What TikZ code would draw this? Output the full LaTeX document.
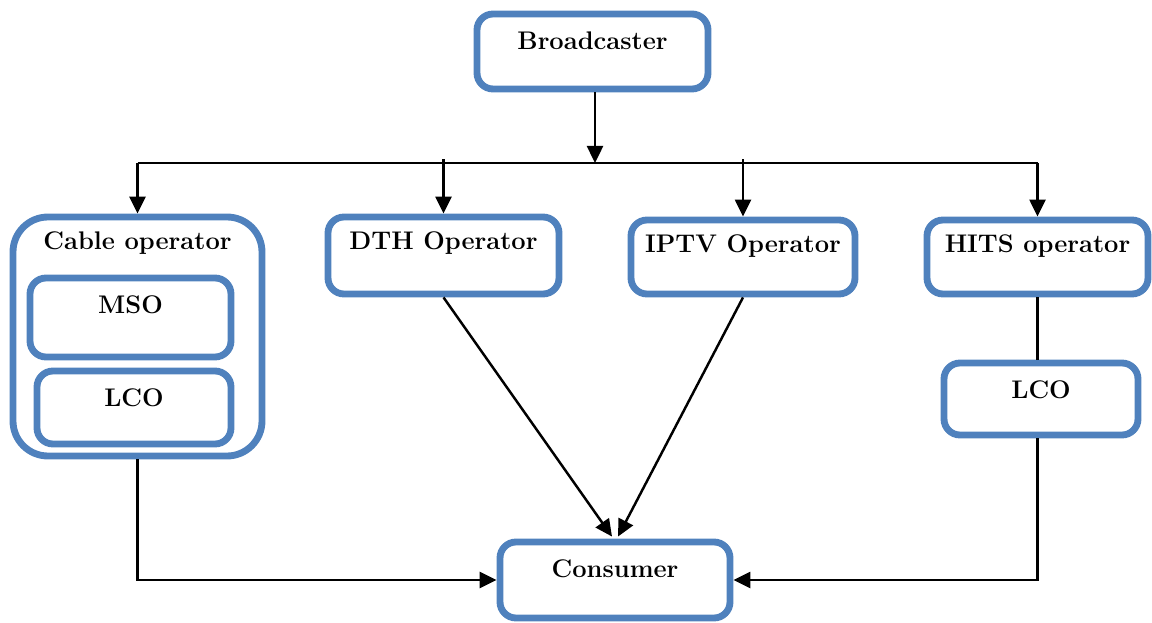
\documentclass[tikz,border=0pt]{standalone}
\usepackage{xcolor}
\usetikzlibrary{arrows.meta,calc}
\definecolor{boxblue}{RGB}{79,129,189}
\tikzset{
	opbox/.style={
			draw=boxblue, line width=3.9pt, rounded corners=0.32cm,
			minimum width=#1, inner sep=0pt
		},
	boxlabel/.style={
			label={[anchor=center, yshift=-0.6cm, font=\fontsize{14.5}{17}\selectfont\bfseries]north:#1}
		},
	arr/.style={-{Triangle[length=0.34cm,width=0.32cm]}, line width=1.4pt, black}
}

\begin{document}
\begin{tikzpicture}
			\useasboundingbox (0, 0) rectangle (23.04, 12.44);

			\node[opbox=4.62cm, minimum height=1.5cm, boxlabel=Broadcaster]	(broad) at (11.85, 11.41) {};
			\node[opbox=4.98cm, minimum height=4.78cm, rounded corners=0.7cm, boxlabel=Cable operator]	(cable) at (2.75, 5.71) {};
			\node[opbox=4.02cm, minimum height=1.58cm, boxlabel=MSO]	(mso) at (2.61, 6.09) {};
			\node[opbox=3.88cm, minimum height=1.46cm, boxlabel=LCO]	(lcoL) at (2.68, 4.29) {};
			\node[opbox=4.62cm, minimum height=1.54cm, boxlabel=DTH Operator]	(dth) at (8.87, 7.33) {};
			\node[opbox=4.48cm, minimum height=1.48cm, boxlabel=IPTV Operator]	(iptv) at (14.86, 7.30) {};
			\node[opbox=4.42cm, minimum height=1.48cm, boxlabel=HITS operator]	(hits) at (20.75, 7.30) {};
			\node[opbox=3.88cm, minimum height=1.44cm, boxlabel=LCO]	(lcoR) at (20.82, 4.46) {};
			\node[opbox=4.6cm, minimum height=1.52cm, boxlabel=Consumer]	(cons) at (12.3, 0.84) {};

			\coordinate (bus) at (11.9, 9.18);

			\draw[arr]	(broad.south -| bus) to (bus);
			\draw[line width=1.4pt]	(cable.north |- bus) to (hits.north |- bus);
			\foreach \n in {cable, hits}
				\draw[arr]	(\n.north |- bus) to (\n.north);
			\foreach \n in {dth, iptv}
				\draw[arr]	($(\n.north |- bus) + (0, 0.07)$) to (\n.north);

			\draw[arr]	(dth.south) to ($(cons.north) + (-0.06, 0.04)$);
			\draw[arr]	(iptv.south) to ($(cons.north) + (0.06, 0.04)$);

			\draw[arr]	(cable.south) |- (cons.west);
			\draw[line width=1.4pt]	(hits.south) to (hits.south |- lcoR.north);
			\draw[arr]	(hits.south |- lcoR.south) |- (cons.east);
		\end{tikzpicture}
\end{document}
